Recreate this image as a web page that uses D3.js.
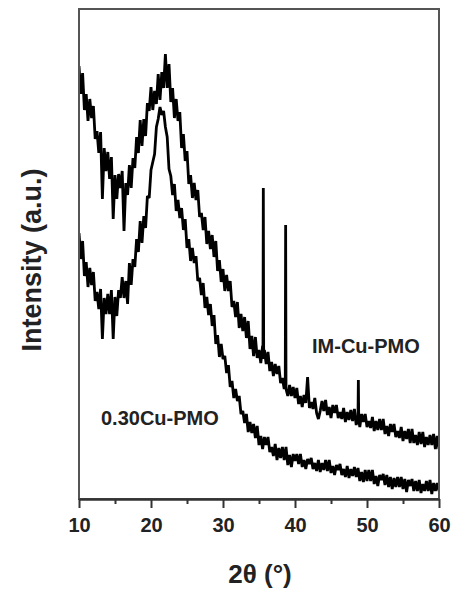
<!DOCTYPE html>
<html>
<head>
<meta charset="utf-8">
<script src="https://cdn.jsdelivr.net/npm/d3@7"></script>
<style>
  body { margin: 0; background: #fff; }
  svg { display: block; font-family: Arial, 'Liberation Sans', sans-serif; }
  .frame { fill: none; stroke: #555; stroke-width: 2; }
  .axis path, .axis line { stroke: #333; stroke-width: 2; }
  .axis text { font-size: 20px; font-weight: bold; fill: #222; }
  .trace { fill: none; stroke: #000; stroke-width: 2.8; stroke-linejoin: bevel; }
  .label { font-size: 20px; font-weight: bold; fill: #222; }
</style>
</head>
<body>
<svg id="chart"></svg>
<script>
// x-axis ticks (2theta, degrees)
const majorTicks = [10, 20, 30, 40, 50, 60]
const minorTicks = [15, 25, 35, 45, 55]

// series names
const seriesNames = ['IM-Cu-PMO', '0.30Cu-PMO']

// IM-Cu-PMO: [2theta, intensity a.u.]
const imCuPmo = [
  [10, 433], [10.25, 405], [10.5, 426], [10.75, 389], [11, 405], [11.25, 378], [11.5, 400], [11.75, 381],
  [12, 393], [12.25, 360], [12.5, 368], [12.75, 346], [13, 367], [13.25, 300], [13.5, 351], [13.75, 328],
  [14, 347], [14.25, 320], [14.5, 342], [14.75, 280], [15, 324], [15.25, 300], [15.5, 325], [15.75, 311],
  [16, 328], [16.25, 268], [16.5, 316], [16.75, 304], [17, 334], [17.25, 311], [17.5, 341], [17.75, 331],
  [18, 362], [18.25, 346], [18.5, 379], [18.75, 353], [19, 380], [19.25, 363], [19.5, 396], [19.75, 388],
  [20, 412], [20.25, 389], [20.5, 408], [20.75, 395], [21, 425], [21.25, 399], [21.5, 427], [21.75, 411],
  [22, 445], [22.25, 411], [22.5, 435], [22.75, 397], [23, 411], [23.25, 381], [23.5, 400], [23.75, 378],
  [24, 387], [24.25, 351], [24.5, 365], [24.75, 338], [25, 348], [25.25, 315], [25.5, 324], [25.75, 301],
  [26, 316], [26.25, 299], [26.5, 309], [26.75, 282], [27, 286], [27.25, 269], [27.5, 282], [27.75, 255],
  [28, 268], [28.25, 250], [28.5, 264], [28.75, 242], [29, 258], [29.25, 228], [29.5, 239], [29.75, 217],
  [30, 230], [30.25, 208], [30.5, 224], [30.75, 208], [31, 218], [31.25, 192], [31.5, 198], [31.75, 182],
  [32, 197], [32.25, 171], [32.5, 185], [32.75, 168], [33, 182], [33.25, 161], [33.5, 178], [33.75, 150],
  [34, 163], [34.25, 143], [34.5, 162], [34.75, 141], [35, 149], [35.25, 136], [35.5, 153], [35.55, 140],
  [35.6, 311], [35.65, 140], [35.75, 149], [36, 135], [36.25, 147], [36.5, 128], [36.75, 137], [37, 123],
  [37.25, 135], [37.5, 125], [37.75, 133], [38, 116], [38.25, 121], [38.5, 110], [38.65, 121], [38.7, 274],
  [38.75, 110], [39, 103], [39.25, 114], [39.5, 103], [39.75, 112], [40, 101], [40.25, 111], [40.5, 95],
  [40.75, 103], [41, 92], [41.25, 104], [41.5, 96], [41.75, 122], [42, 91], [42.25, 97], [42.5, 90],
  [42.75, 101], [43, 86], [43.25, 80], [43.5, 88], [43.75, 98], [44, 88], [44.25, 99], [44.5, 84],
  [44.75, 92], [45, 81], [45.25, 94], [45.5, 86], [45.75, 94], [46, 81], [46.25, 87], [46.5, 80],
  [46.75, 91], [47, 77], [47.25, 87], [47.5, 79], [47.75, 89], [48, 78], [48.25, 90], [48.5, 74],
  [48.75, 82], [48.8, 119], [48.85, 80], [49, 72], [49.25, 85], [49.5, 77], [49.75, 85], [50, 72],
  [50.25, 78], [50.5, 71], [50.75, 82], [51, 68], [51.25, 78], [51.5, 69], [51.75, 80], [52, 69],
  [52.25, 80], [52.5, 65], [52.75, 73], [53, 63], [53.25, 75], [53.5, 67], [53.75, 75], [54, 62],
  [54.25, 68], [54.5, 61], [54.75, 72], [55, 58], [55.25, 68], [55.5, 60], [55.75, 70], [56, 56],
  [56.25, 70], [56.5, 56], [56.75, 64], [57, 54], [57.25, 67], [57.5, 55], [57.75, 67], [58, 52],
  [58.25, 62], [58.5, 54], [58.75, 64], [59, 54], [59.25, 65], [59.5, 50], [59.75, 63], [60, 50]
]

// 0.30Cu-PMO: [2theta, intensity a.u.]
const cu030Pmo = [
  [10, 266], [10.25, 240], [10.5, 258], [10.75, 223], [11, 237], [11.25, 212], [11.5, 231], [11.75, 214],
  [12, 227], [12.25, 198], [12.5, 207], [12.75, 190], [13, 210], [13.25, 160], [13.5, 201], [13.75, 185],
  [14, 205], [14.25, 185], [14.5, 209], [14.75, 160], [15, 202], [15.25, 183], [15.5, 209], [15.75, 201],
  [16, 222], [16.25, 201], [16.5, 218], [16.75, 195], [17, 236], [17.25, 214], [17.5, 240], [17.75, 232],
  [18, 260], [18.25, 247], [18.5, 278], [18.75, 256], [19, 283], [19.25, 271], [19.5, 303], [19.75, 301],
  [20, 329], [20.25, 337], [20.5, 345], [20.75, 372], [21, 380], [21.25, 392], [21.5, 384], [21.75, 388],
  [22, 372], [22.25, 362], [22.5, 330], [22.75, 323], [23, 304], [23.25, 315], [23.5, 288], [23.75, 299],
  [24, 281], [24.25, 291], [24.5, 269], [24.75, 280], [25, 251], [25.25, 260], [25.5, 238], [25.75, 251],
  [26, 236], [26.25, 243], [26.5, 218], [26.75, 221], [27, 204], [27.25, 216], [27.5, 191], [27.75, 202],
  [28, 184], [28.25, 195], [28.5, 173], [28.75, 184], [29, 155], [29.25, 164], [29.5, 142], [29.75, 155],
  [30, 140], [30.25, 143], [30.5, 126], [30.75, 134], [31, 112], [31.25, 118], [31.5, 101], [31.75, 110],
  [32, 98], [32.25, 103], [32.5, 85], [32.75, 88], [33, 76], [33.25, 85], [33.5, 67], [33.75, 77],
  [34, 66], [34.25, 75], [34.5, 61], [34.75, 73], [35, 54], [35.25, 63], [35.5, 50], [35.75, 62],
  [36, 54], [36.25, 62], [36.5, 47], [36.75, 52], [37, 43], [37.25, 55], [37.5, 39], [37.75, 51],
  [38, 41], [38.25, 52], [38.5, 39], [38.75, 52], [39, 34], [39.25, 44], [39.5, 32], [39.75, 45],
  [40, 38], [40.25, 45], [40.5, 35], [40.75, 45], [41, 32], [41.25, 39], [41.5, 30], [41.75, 40],
  [42, 35], [42.25, 41], [42.5, 30], [42.75, 36], [43, 28], [43.25, 39], [43.5, 27], [43.75, 36],
  [44, 29], [44.25, 39], [44.5, 28], [44.75, 39], [45, 26], [45.25, 33], [45.5, 24], [45.75, 34],
  [46, 29], [46.25, 35], [46.5, 24], [46.75, 30], [47, 22], [47.25, 33], [47.5, 21], [47.75, 30],
  [48, 23], [48.25, 32], [48.5, 22], [48.75, 31], [49, 18], [49.25, 27], [49.5, 17], [49.75, 29],
  [50, 18], [50.25, 29], [50.5, 18], [50.75, 29], [51, 15], [51.25, 23], [51.5, 13], [51.75, 24],
  [52, 19], [52.25, 25], [52.5, 14], [52.75, 24], [53, 12], [53.25, 22], [53.5, 10], [53.75, 21],
  [54, 12], [54.25, 22], [54.5, 12], [54.75, 22], [55, 10], [55.25, 20], [55.5, 7], [55.75, 19],
  [56, 13], [56.25, 20], [56.5, 8], [56.75, 18], [57, 8], [57.25, 19], [57.5, 6], [57.75, 15],
  [58, 8], [58.25, 18], [58.5, 8], [58.75, 19], [59, 5], [59.25, 16], [59.5, 8], [59.75, 16], [60, 8]
]

const conf = {
  width: 453,
  height: 592,
  margin: { top: 9, right: 14, bottom: 93, left: 79 }
}

const { width, height, margin } = conf
const w = width - margin.left - margin.right
const h = height - margin.top - margin.bottom

const svg = d3.select('#chart')
  .attr('width', width)
  .attr('height', height)

const chart = svg.append('g')
  .attr('transform', `translate(${margin.left}, ${margin.top})`)

const xScale = d3.scaleLinear().domain([10, 60]).range([0, w])
const yScale = d3.scaleLinear().domain([0, 490]).range([h, 0])

// traces (clipped to plot area)
chart.append('clipPath')
  .attr('id', 'plot-clip')
  .append('rect')
  .attr('width', w)
  .attr('height', h)

const line = d3.line()
  .x(d => xScale(d[0]))
  .y(d => yScale(d[1]))

chart.selectAll('.trace')
  .data([imCuPmo, cu030Pmo])
  .enter()
  .append('path')
  .attr('class', 'trace')
  .attr('clip-path', 'url(#plot-clip)')
  .attr('d', line)

// frame
chart.append('rect')
  .attr('class', 'frame')
  .attr('width', w)
  .attr('height', h)

// bottom axis, major + minor ticks
chart.append('g')
  .attr('class', 'x axis')
  .attr('transform', `translate(0, ${h})`)
  .call(d3.axisBottom(xScale)
    .tickValues(majorTicks)
    .tickSize(9)
    .tickSizeOuter(0)
    .tickPadding(10)
    .tickFormat(d3.format('d')))

chart.append('g')
  .attr('class', 'x axis minor')
  .attr('transform', `translate(0, ${h})`)
  .call(d3.axisBottom(xScale)
    .tickValues(minorTicks)
    .tickSize(5)
    .tickSizeOuter(0)
    .tickFormat(''))

// axis titles
svg.append('text')
  .attr('x', 260)
  .attr('y', 583)
  .attr('text-anchor', 'middle')
  .attr('font-size', 26)
  .attr('font-weight', 'bold')
  .attr('fill', '#222')
  .text('2θ (°)')

svg.append('text')
  .attr('transform', 'translate(41, 260) rotate(-90)')
  .attr('text-anchor', 'middle')
  .attr('font-size', 27)
  .attr('font-weight', 'bold')
  .attr('fill', '#222')
  .text('Intensity (a.u.)')

// series labels
const labelPos = [[312, 353], [101, 425]]
svg.selectAll('.label')
  .data(seriesNames)
  .enter()
  .append('text')
  .attr('class', 'label')
  .attr('x', (d, i) => labelPos[i][0])
  .attr('y', (d, i) => labelPos[i][1])
  .text(d => d)
</script>
</body>
</html>
